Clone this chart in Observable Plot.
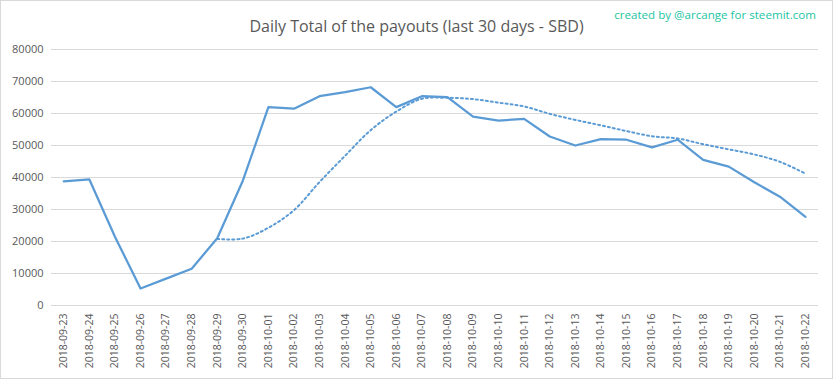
<!DOCTYPE html>
<html>
<head>
<meta charset="utf-8">
<script src="https://cdn.jsdelivr.net/npm/d3@7"></script>
<script src="https://cdn.jsdelivr.net/npm/@observablehq/plot@0.6"></script>
<style>
  html, body { margin: 0; padding: 0; background: #fff; }
  #wrap { position: relative; width: 833px; height: 379px; box-sizing: border-box; border: 1px solid #d9d9d9; overflow: hidden; font-family: "Open Sans", sans-serif; }
  #title { position: absolute; left: 0; width: 831px; top: 14px; text-align: center; font-size: 16px; color: #595959; }
  #credit { position: absolute; right: 16px; top: 6px; font-size: 11.6px; color: #22c5a2; }
  #chart { position: absolute; left: 0; top: 0; }
</style>
</head>
<body>
<div id="wrap">
  <div id="chart"></div>
  <div id="title">Daily Total of the payouts (last 30 days - SBD)</div>
  <div id="credit">created by @arcange for steemit.com</div>
</div>
<script>
const dates = ["2018-09-23","2018-09-24","2018-09-25","2018-09-26","2018-09-27","2018-09-28","2018-09-29","2018-09-30",
  "2018-10-01","2018-10-02","2018-10-03","2018-10-04","2018-10-05","2018-10-06","2018-10-07","2018-10-08","2018-10-09",
  "2018-10-10","2018-10-11","2018-10-12","2018-10-13","2018-10-14","2018-10-15","2018-10-16","2018-10-17","2018-10-18",
  "2018-10-19","2018-10-20","2018-10-21","2018-10-22"];
const payouts = [38800,39400,21500,5300,8400,11500,21000,39000,62000,61500,65400,66700,68200,62000,65400,65100,59000,
  57800,58300,52800,50000,52000,51800,49400,51800,45500,43400,38500,34000,27700];
// 7-day moving average trendline (starts at 2018-09-29)
const trendDates = dates.slice(6);
const trend = [20800,20900,24300,29800,38600,46800,54800,60600,64600,64900,64500,63400,62200,59900,58000,56300,54500,
  52900,52200,50400,48800,47200,44900,41200];
const yTicks = [0,10000,20000,30000,40000,50000,60000,70000,80000];

const main = dates.map((d, i) => ({date: d, value: payouts[i]}));
const tr = trendDates.map((d, i) => ({date: d, value: trend[i]}));

const blue = "#5b9bd5";
const chart = Plot.plot({
  width: 831,
  height: 377,
  marginLeft: 50,
  marginRight: 14,
  marginTop: 48,
  marginBottom: 73,
  style: {fontFamily: "Open Sans, sans-serif", fontSize: "10.5px", color: "#595959", background: "transparent"},
  x: {type: "point", domain: dates, range: [62.3, 804], padding: 0, round: false, label: null},
  y: {domain: [0, 80000], label: null},
  marks: [
    Plot.ruleY(yTicks, {stroke: "#d9d9d9", strokeWidth: 1}),
    Plot.axisY({ticks: yTicks, tickSize: 0, tickPadding: 8, tickFormat: d => String(d), label: null, fontSize: 11}),
    Plot.axisX({tickSize: 0, tickPadding: 8, tickRotate: -90, label: null, fontSize: 10.5}),
    Plot.line(tr, {x: "date", y: "value", stroke: blue, strokeWidth: 2, strokeDasharray: "2,3", curve: "catmull-rom"}),
    Plot.line(main, {x: "date", y: "value", stroke: blue, strokeWidth: 2.25, strokeLinejoin: "round"})
  ]
});
document.getElementById("chart").appendChild(chart);
</script>
</body>
</html>
